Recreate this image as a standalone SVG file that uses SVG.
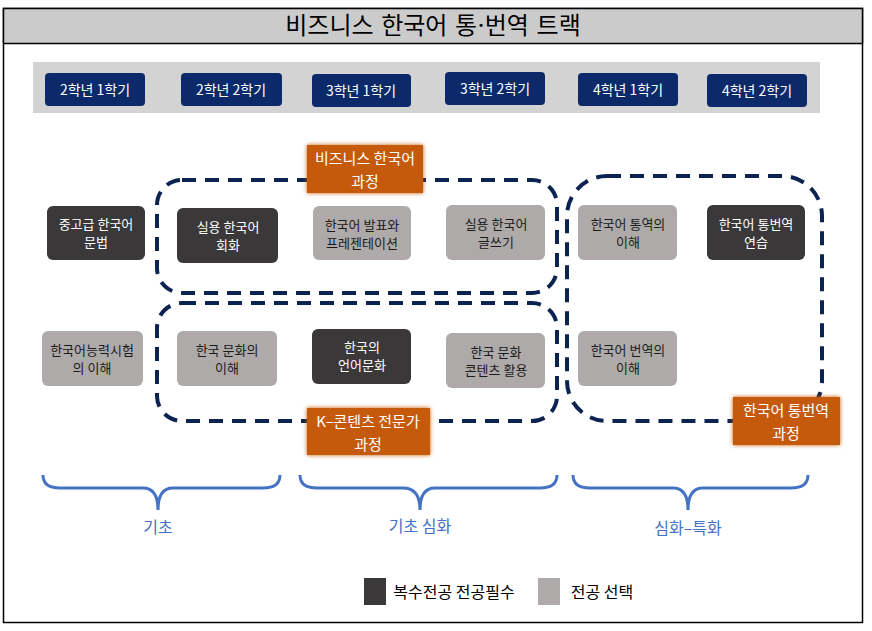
<svg xmlns="http://www.w3.org/2000/svg" width="872" height="631" viewBox="0 0 872 631">
<style>
text{font-family:"Noto Sans CJK KR","Noto Sans",sans-serif;text-anchor:middle}
.sem rect{fill:#0c2a6a}
.sem text{fill:#fff;font-size:14px}
.d rect{fill:#3a3839}
.l rect{fill:#aeaaaa}
.n text{fill:#fff;font-size:13px}
.n .l text{fill:#1a1a1a}
.dash{fill:none;stroke:#0b2350;stroke-width:4;stroke-dasharray:14 9}
.or rect{fill:#c55a11;filter:url(#glow)}
.or text{fill:#fff;font-size:15px}
.br{fill:none;stroke:#4472c4;stroke-width:3}
.bl{fill:#4472c4;font-size:16px}
</style>
<defs><filter id="glow" x="-20%" y="-20%" width="140%" height="140%"><feGaussianBlur in="SourceGraphic" stdDeviation="2" result="b"/><feMerge><feMergeNode in="b"/><feMergeNode in="SourceGraphic"/></feMerge></filter></defs>
<rect x="0" y="0" width="872" height="631" fill="#fff"/>
<rect x="3.5" y="8.5" width="859" height="614" fill="#fff" stroke="#000" stroke-width="1.5"/>
<rect x="3.5" y="8.5" width="859" height="35" fill="#cbcbcb" stroke="#000" stroke-width="1.5"/>
<text x="433" y="34" style="font-size:24px;font-family:'DejaVu Serif','Noto Sans CJK KR',serif">비즈니스 한국어 통·번역 트랙</text>
<rect x="33" y="62" width="787" height="51" fill="#d3d3d3"/>
<g class="sem">
<g id="s1"><rect x="45" y="73" width="100" height="33" rx="4"/><text x="95" y="95">2학년 1학기</text></g>
<g id="s2"><rect x="181" y="73" width="101" height="33" rx="4"/><text x="231" y="95">2학년 2학기</text></g>
<g id="s3"><rect x="312" y="74" width="99" height="33" rx="4"/><text x="361" y="96">3학년 1학기</text></g>
<g id="s4"><rect x="445" y="72" width="100" height="33" rx="4"/><text x="495" y="94">3학년 2학기</text></g>
<g id="s5"><rect x="578" y="73" width="100" height="33" rx="4"/><text x="628" y="95">4학년 1학기</text></g>
<g id="s6"><rect x="707" y="74" width="100" height="33" rx="4"/><text x="757" y="96">4학년 2학기</text></g>
</g>
<g id="connectors">
<rect class="dash" x="157" y="180" width="400" height="113" rx="25"/>
<rect class="dash" x="157" y="303" width="400" height="118" rx="25"/>
<rect class="dash" x="567" y="176" width="255" height="245" rx="40"/>
<path class="br" d="M43 475 Q43 488 60 488 L143 488 Q158 488 158 510 Q158 488 173 488 L263 488 Q280 488 280 475"/>
<path class="br" d="M300 475 Q300 488 317 488 L403 488 Q420 488 420 510 Q420 488 435 488 L540 488 Q557 488 557 475"/>
<path class="br" d="M573 475 Q573 488 590 488 L673 488 Q688 488 688 510 Q688 488 703 488 L791 488 Q808 488 808 475"/>
</g>
<g class="n">
<g id="n1" class="d"><rect x="47" y="206" width="98" height="54" rx="6"/><text x="96" y="229">중고급 한국어</text><text x="96" y="247">문법</text></g>
<g id="n2" class="d"><rect x="177" y="208" width="101" height="55" rx="6"/><text x="228" y="232">실용 한국어</text><text x="228" y="250">회화</text></g>
<g id="n3" class="l"><rect x="313" y="206" width="98" height="54" rx="6"/><text x="362" y="230">한국어 발표와</text><text x="362" y="248">프레젠테이션</text></g>
<g id="n4" class="l"><rect x="446" y="205" width="99" height="55" rx="6"/><text x="496" y="229">실용 한국어</text><text x="496" y="247">글쓰기</text></g>
<g id="n5" class="l"><rect x="578" y="205" width="99" height="55" rx="6"/><text x="628" y="229">한국어 통역의</text><text x="628" y="247">이해</text></g>
<g id="n6" class="d"><rect x="707" y="205" width="98" height="55" rx="6"/><text x="756" y="229">한국어 통번역</text><text x="756" y="247">연습</text></g>
<g id="n7" class="l"><rect x="42" y="331" width="101" height="55" rx="6"/><text x="92" y="355">한국어능력시험</text><text x="92" y="373">의 이해</text></g>
<g id="n8" class="l"><rect x="177" y="331" width="100" height="55" rx="6"/><text x="227" y="355">한국 문화의</text><text x="227" y="373">이해</text></g>
<g id="n9" class="d"><rect x="312" y="329" width="99" height="55" rx="6"/><text x="362" y="352">한국의</text><text x="362" y="370">언어문화</text></g>
<g id="n10" class="l"><rect x="446" y="333" width="99" height="55" rx="6"/><text x="496" y="357">한국 문화</text><text x="496" y="375">콘텐츠 활용</text></g>
<g id="n11" class="l"><rect x="578" y="331" width="99" height="55" rx="6"/><text x="628" y="355">한국어 번역의</text><text x="628" y="373">이해</text></g>
</g>
<g class="or">
<g id="o1"><rect x="307" y="145" width="116" height="48"/><text x="365" y="164">비즈니스 한국어</text><text x="365" y="187">과정</text></g>
<g id="o2"><rect x="307" y="408" width="123" height="47"/><text x="368" y="427">K–콘텐츠 전문가</text><text x="368" y="450">과정</text></g>
<g id="o3"><rect x="733" y="397" width="107" height="48"/><text x="786" y="416">한국어 통번역</text><text x="786" y="439">과정</text></g>
</g>
<text class="bl" x="158" y="533">기초</text>
<text class="bl" x="420" y="532">기초 심화</text>
<text class="bl" x="688" y="534">심화–특화</text>
<g id="legend">
<rect x="364" y="578" width="22" height="27" fill="#3a3839"/>
<text x="454" y="598" style="font-size:16px">복수전공 전공필수</text>
<rect x="538" y="578" width="22" height="27" fill="#aeaaaa"/>
<text x="602" y="598" style="font-size:16px">전공 선택</text>
</g>
</svg>
